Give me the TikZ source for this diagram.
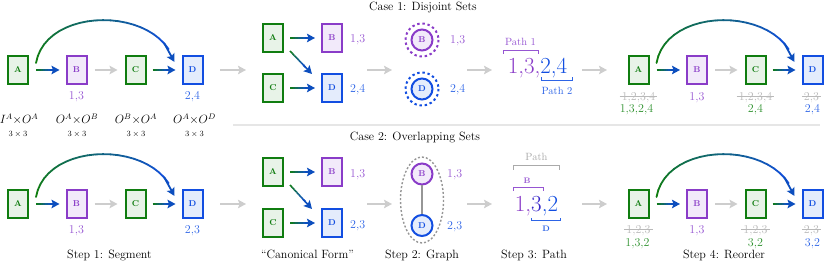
\documentclass[tikz,border=0pt]{standalone}
\usepackage{fontspec}
\usetikzlibrary{arrows.meta,calc}
\definecolor{cgreen}{RGB}{16,125,16}
\definecolor{cgreenf}{RGB}{232,243,232}
\definecolor{cgreenl}{RGB}{45,145,45}
\definecolor{cpurple}{RGB}{138,60,200}
\definecolor{cpurplef}{RGB}{242,234,250}
\definecolor{cpurplel}{RGB}{150,85,210}
\definecolor{cblue}{RGB}{18,78,225}
\definecolor{cbluef}{RGB}{228,236,252}
\definecolor{cbluel}{RGB}{45,100,230}
\definecolor{carrow}{RGB}{12,78,190}
\definecolor{cstage}{RGB}{205,205,205}
\definecolor{cstrike}{RGB}{185,185,185}
\definecolor{csep}{RGB}{230,230,230}
\definecolor{cmid}{RGB}{58,40,200}
\definecolor{cgraph}{RGB}{150,150,150}
\definecolor{cpath}{RGB}{170,170,170}
% gradient straight arrow between two named coordinates
\newcommand\gline[2]{%
  \foreach \i in {0,...,6}{%
    \pgfmathsetmacro\ta{\i/10}%
    \pgfmathsetmacro\tb{(\i+1)/10}%
    \pgfmathtruncatemacro\m{100*(\i+0.5)/7}%
    \draw[arrline, draw=cblue!\m!cgreen] ($(#1)!\ta!(#2)$) -- ($(#1)!\tb!(#2)$);%
  }%
  \draw[arrline, draw=carrow, tipb] ($(#1)!0.6!(#2)$) -- (#2);%
}
% gradient arc arrow from node #1 to node #2, coordinate prefix #3
\newcommand\garc[3]{%
  \coordinate (#3s) at ($(#1.east)+(7,-7)$);%
  \coordinate (#3e) at ($(#2.west)+(-7,-8)$);%
  \foreach \i in {0,...,24}{%
    \path (#3s) .. controls ($(#3s)+(10,-57)$) and ($(#3e)+(-16,-56)$) .. (#3e) coordinate[pos=\i/24] (#3\i);%
  }%
  \foreach \i in {0,...,21}{%
    \pgfmathtruncatemacro\j{\i+1}%
    \pgfmathtruncatemacro\m{100*\i/21}%
    \draw[arcline, draw=cblue!\m!cgreen] (#3\i) -- (#3\j);%
  }%
  \draw[arcline, draw=carrow, tipb] (#321) -- (#3e);%
}
% struck-through label
\newcommand\strk[3]{%
  \node[slab] (#1) at (#2) {#3};%
  \draw[strikeline] ($(#1.base west)+(0,-4.2)$) -- ($(#1.base east)+(0,-4.2)$);%
}
\begin{document}
\begin{tikzpicture}[x=1pt,y=-1pt,
  every node/.style={font=\fontsize{12}{14}\selectfont, inner sep=1pt},
  box/.style={draw, rectangle, line width=2pt, minimum width=20pt, minimum height=28pt, inner sep=0pt, font=\fontsize{8.5}{10}\selectfont\bfseries},
  gbox/.style={box, draw=cgreen, fill=cgreenf, text=cgreen},
  pbox/.style={box, draw=cpurple, fill=cpurplef, text=cpurple},
  bbox/.style={box, draw=cblue, fill=cbluef, text=cblue},
  circ/.style={circle, line width=2pt, minimum size=21pt, inner sep=0pt, font=\fontsize{8.5}{10}\selectfont\bfseries},
  pcirc/.style={circ, draw=cpurple, fill=cpurplef, text=cpurple},
  bcirc/.style={circ, draw=cblue, fill=cbluef, text=cblue},
  halo/.style={line width=2pt, dash pattern=on 2.4pt off 2.8pt},
  tipb/.style={-{Stealth[length=8pt,width=8.5pt,inset=1.5pt]}},
  stage/.style={draw=cstage, line width=1.5pt, tipb},
  arrline/.style={line width=1.6pt},
  arcline/.style={line width=1.8pt, line cap=round},
  plab/.style={text=cpurplel, anchor=base},
  blab/.style={text=cbluel, anchor=base},
  glab/.style={text=cgreenl, anchor=base},
  slab/.style={text=cstrike, anchor=base, inner xsep=2pt},
  strikeline/.style={draw=cstrike, line width=0.8pt},
  brk/.style={line width=1pt},
  ttl/.style={anchor=base, text=black},
  mlab/.style={anchor=base},
  dlab/.style={anchor=base, font=\fontsize{8.5}{10}\selectfont},
  big/.style={anchor=base, font=\fontsize{23}{26}\selectfont},
  small/.style={anchor=base, font=\fontsize{10.5}{12}\selectfont},
  tinyb/.style={anchor=base, font=\fontsize{8}{9}\selectfont\bfseries},
]
\useasboundingbox (0,0) rectangle (830,264);

% ---------- titles and separator ----------
\node[ttl] (t1) at (423,10.5) {Case 1: Disjoint Sets};
\node[ttl] (t2) at (415,141) {Case 2: Overlapping Sets};
\coordinate (sepl) at (233,125.5);
\coordinate (sepr) at (820,125.5);
\draw[draw=csep, line width=2pt] (sepl) -- (sepr);

% ---------- stage arrows ----------
\foreach \y/\r in {70/t,204/b}{
  \coordinate (s1\r a) at (220,\y); \coordinate (s1\r b) at (246,\y);
  \coordinate (s2\r a) at (367,\y); \coordinate (s2\r b) at (392,\y);
  \coordinate (s3\r a) at (467,\y); \coordinate (s3\r b) at (492,\y);
  \coordinate (s4\r a) at (582,\y); \coordinate (s4\r b) at (607,\y);
  \draw[stage] (s1\r a) -- (s1\r b);
  \draw[stage] (s2\r a) -- (s2\r b);
  \draw[stage] (s3\r a) -- (s3\r b);
  \draw[stage] (s4\r a) -- (s4\r b);
}

% =============== CASE 1 ===============
% Step 1
\node[gbox] (A1) at (18,70) {A};
\node[pbox] (B1) at (76.5,70) {B};
\node[gbox] (C1) at (135.5,70) {C};
\node[bbox] (D1) at (192.5,70) {D};
\coordinate (a1o) at ($(A1.east)+(7,0)$);  \coordinate (b1i) at ($(B1.west)+(-6,0)$);
\coordinate (b1o) at ($(B1.east)+(7,0)$);  \coordinate (c1i) at ($(C1.west)+(-7,0)$);
\coordinate (c1o) at ($(C1.east)+(6,0)$);  \coordinate (d1i) at ($(D1.west)+(-6,0)$);
\gline{a1o}{b1i}
\draw[stage] (b1o) -- (c1i);
\gline{c1o}{d1i}
\garc{A1}{D1}{ka}
\node[plab] (lB1) at ($(B1)+(0,30)$) {1,3};
\node[blab] (lD1) at ($(D1)+(0,30)$) {2,4};
\node[mlab] (m1) at ($(A1)+(1,54)$) {$I^A{\times}O^A$};
\node[dlab] (m1s) at ($(A1)+(0,66.5)$) {$3\times3$};
\node[mlab] (m2) at ($(B1)+(0.5,54)$) {$O^A{\times}O^B$};
\node[dlab] (m2s) at ($(B1)+(0.5,66.5)$) {$3\times3$};
\node[mlab] (m3) at ($(C1)+(0.5,54)$) {$O^B{\times}O^A$};
\node[dlab] (m3s) at ($(C1)+(0.5,66.5)$) {$3\times3$};
\node[mlab] (m4) at ($(D1)+(2,54)$) {$O^A{\times}O^D$};
\node[dlab] (m4s) at ($(D1)+(2,66.5)$) {$3\times3$};

% Canonical form
\node[gbox] (cA1) at (273,38) {A};
\node[pbox] (cB1) at (332,38) {B};
\node[gbox] (cC1) at (273,88) {C};
\node[bbox] (cD1) at (332,88) {D};
\coordinate (ca1o) at ($(cA1.east)+(6,0)$);  \coordinate (cb1i) at ($(cB1.west)+(-6,0)$);
\coordinate (ca1d) at ($(cA1.east)+(6,13)$); \coordinate (cd1t) at ($(cD1.west)+(-9,-14)$);
\coordinate (cc1o) at ($(cC1.east)+(6,0)$);  \coordinate (cd1i) at ($(cD1.west)+(-6,0)$);
\gline{ca1o}{cb1i}
\gline{ca1d}{cd1t}
\gline{cc1o}{cd1i}
\node[plab, anchor=base west] (lcB1) at ($(cB1.east)+(6,5)$) {1,3};
\node[blab, anchor=base west] (lcD1) at ($(cD1.east)+(6,5)$) {2,4};

% Graph (disjoint)
\node[pcirc] (gB1) at (422,40) {B};
\node[bcirc] (gD1) at (422,89) {D};
\draw[halo, draw=cpurple] (gB1) circle (16.5);
\draw[halo, draw=cblue] (gD1) circle (16.5);
\node[plab, anchor=base west] (lgB1) at ($(gB1)+(27,3.5)$) {1,3};
\node[blab, anchor=base west] (lgD1) at ($(gD1)+(27,4)$) {2,4};

% Path (disjoint)
\node[big] (p1) at (537.5,74) {\textcolor{cpurple}{1,3,}\textcolor{cblue}{2,4}};
\node[small, text=cpurplel] (pl1) at (520.5,45.5) {Path 1};
\draw[brk, draw=cpurplel] (503,54) -- (503,50.5) -- (538,50.5) -- (538,54);
\draw[brk, draw=cbluel] (541,77.5) -- (541,81) -- (572,81) -- (572,77.5);
\node[small, text=cbluel] (pl2) at (557,94.3) {Path 2};

% Reorder (disjoint)
\node[gbox] (A4) at (638.5,70) {A};
\node[pbox] (B4) at (697,70) {B};
\node[gbox] (C4) at (755.5,70) {C};
\node[bbox] (D4) at (812.5,70) {D};
\coordinate (a4o) at ($(A4.east)+(7,0)$);  \coordinate (b4i) at ($(B4.west)+(-6,0)$);
\coordinate (b4o) at ($(B4.east)+(7,0)$);  \coordinate (c4i) at ($(C4.west)+(-7,0)$);
\coordinate (c4o) at ($(C4.east)+(6,0)$);  \coordinate (d4i) at ($(D4.west)+(-6,0)$);
\gline{a4o}{b4i}
\draw[stage] (b4o) -- (c4i);
\gline{c4o}{d4i}
\garc{A4}{D4}{kb}
\strk{sA4}{$(A4)+(0,30.5)$}{1,2,3,4}
\node[glab] (nA4) at ($(A4)+(-2,42.5)$) {1,3,2,4};
\node[plab] (lB4) at ($(B4)+(0,30.5)$) {1,3};
\strk{sC4}{$(C4)+(0,30.5)$}{1,2,3,4}
\node[glab] (nC4) at ($(C4)+(0,42.5)$) {2,4};
\strk{sD4}{$(D4)+(-1,30.5)$}{2,3}
\node[blab] (nD4) at ($(D4)+(0,42.5)$) {2,4};

% =============== CASE 2 ===============
% Step 1
\node[gbox] (A2) at (18,204) {A};
\node[pbox] (B2) at (76.5,204) {B};
\node[gbox] (C2) at (135.5,204) {C};
\node[bbox] (D2) at (192.5,204) {D};
\coordinate (a2o) at ($(A2.east)+(7,0)$);  \coordinate (b2i) at ($(B2.west)+(-6,0)$);
\coordinate (b2o) at ($(B2.east)+(7,0)$);  \coordinate (c2i) at ($(C2.west)+(-7,0)$);
\coordinate (c2o) at ($(C2.east)+(6,0)$);  \coordinate (d2i) at ($(D2.west)+(-6,0)$);
\gline{a2o}{b2i}
\draw[stage] (b2o) -- (c2i);
\gline{c2o}{d2i}
\garc{A2}{D2}{kc}
\node[plab] (lB2) at ($(B2)+(0,30)$) {1,3};
\node[blab] (lD2) at ($(D2)+(0,30)$) {2,3};
\node[ttl] (st1) at (109.5,259) {Step 1: Segment};

% Canonical form
\node[gbox] (cA2) at (273,172) {A};
\node[pbox] (cB2) at (332,172) {B};
\node[gbox] (cC2) at (273,223) {C};
\node[bbox] (cD2) at (332,223) {D};
\coordinate (ca2o) at ($(cA2.east)+(6,0)$);  \coordinate (cb2i) at ($(cB2.west)+(-6,0)$);
\coordinate (ca2d) at ($(cA2.east)+(6,13)$); \coordinate (cd2t) at ($(cD2.west)+(-9,-14)$);
\coordinate (cc2o) at ($(cC2.east)+(6,0)$);  \coordinate (cd2i) at ($(cD2.west)+(-6,0)$);
\gline{ca2o}{cb2i}
\gline{ca2d}{cd2t}
\gline{cc2o}{cd2i}
\node[plab, anchor=base west] (lcB2) at ($(cB2.east)+(6,5.5)$) {1,3};
\node[blab, anchor=base west] (lcD2) at ($(cD2.east)+(6,5.5)$) {2,3};
\node[ttl] (st0) at (307.5,259) {``Canonical Form''};

% Graph (overlapping)
\coordinate (ell) at (422,200);
\draw[draw=cgraph, line width=1.4pt, dash pattern=on 2pt off 2pt] (ell) ellipse [x radius=21.5, y radius=43];
\node[pcirc] (gB2) at (422,174) {B};
\node[bcirc] (gD2) at (422,225.5) {D};
\draw[draw=cgraph, line width=1.2pt] (gB2) -- (gD2);
\node[plab, anchor=base west] (lgB2) at ($(gB2)+(24,4)$) {1,3};
\node[blab, anchor=base west] (lgD2) at ($(gD2)+(24,4)$) {2,3};
\node[ttl] (st2) at (422,259) {Step 2: Graph};

% Path (overlapping)
\node[big] (p2) at (536.5,212) {\textcolor{cpurple}{1,}\textcolor{cmid}{3}\textcolor{cblue}{,2}};
\node[small, text=cpath] (pl3) at (536.5,161) {Path};
\draw[brk, draw=cpath] (513,170) -- (513,166) -- (559,166) -- (559,170);
\node[tinyb, text=cpurplel] (pl4) at (527,183.3) {B};
\draw[brk, draw=cpurplel] (513,191) -- (513,188) -- (543,188) -- (543,191);
\draw[brk, draw=cbluel] (531,218) -- (531,221) -- (560,221) -- (560,218);
\node[tinyb, text=cbluel] (pl5) at (546,231.5) {D};
\node[ttl] (st3) at (534,259) {Step 3: Path};

% Reorder (overlapping)
\node[gbox] (A5) at (638.5,204) {A};
\node[pbox] (B5) at (697,204) {B};
\node[gbox] (C5) at (755.5,204) {C};
\node[bbox] (D5) at (812.5,204) {D};
\coordinate (a5o) at ($(A5.east)+(7,0)$);  \coordinate (b5i) at ($(B5.west)+(-6,0)$);
\coordinate (b5o) at ($(B5.east)+(7,0)$);  \coordinate (c5i) at ($(C5.west)+(-7,0)$);
\coordinate (c5o) at ($(C5.east)+(6,0)$);  \coordinate (d5i) at ($(D5.west)+(-6,0)$);
\gline{a5o}{b5i}
\draw[stage] (b5o) -- (c5i);
\gline{c5o}{d5i}
\garc{A5}{D5}{kd}
\strk{sA5}{$(A5)+(0,30)$}{1,2,3}
\node[glab] (nA5) at ($(A5)+(-1,42.5)$) {1,3,2};
\node[plab] (lB5) at ($(B5)+(0,30)$) {1,3};
\strk{sC5}{$(C5)+(0,30)$}{1,2,3}
\node[glab] (nC5) at ($(C5)+(0,42.5)$) {3,2};
\strk{sD5}{$(D5)+(-1,30)$}{2,3}
\node[blab] (nD5) at ($(D5)+(0,42.5)$) {3,2};
\node[ttl] (st4) at (724,259) {Step 4: Reorder};
\end{tikzpicture}
\end{document}
